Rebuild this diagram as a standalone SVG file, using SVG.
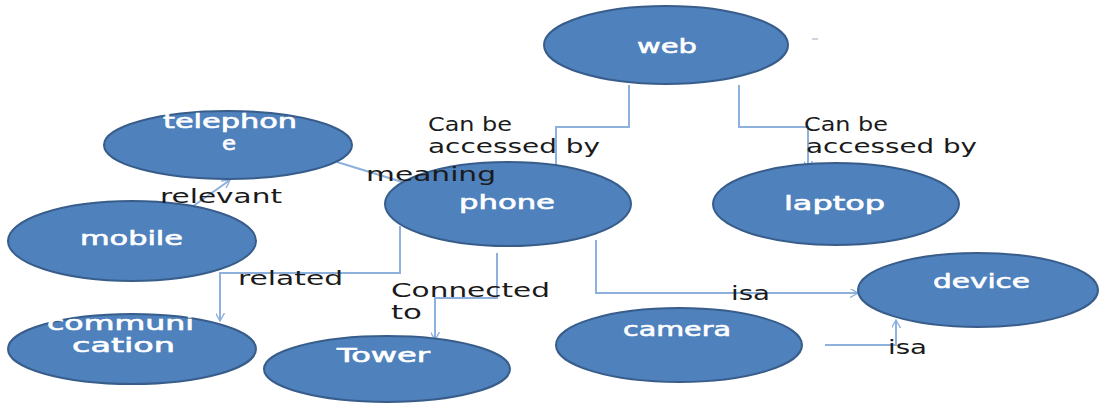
<svg xmlns="http://www.w3.org/2000/svg" width="1099" height="403" viewBox="0 0 1099 403">
<style>
.n{fill:#4F81BD;stroke:#385D8A;stroke-width:2}
.t{fill:#ffffff;stroke:#ffffff;stroke-width:0.6;font-family:"DejaVu Sans",sans-serif;font-size:19px}
.l{fill:#1a1a1a;font-family:"DejaVu Sans",sans-serif;font-size:19px}
.c{fill:none;stroke:#8DB0DC;stroke-width:2}
</style>
<defs>
<marker id="a" viewBox="0 0 10 10" refX="9" refY="5" markerWidth="9" markerHeight="9" markerUnits="userSpaceOnUse" orient="auto-start-reverse">
<path d="M0,0 L9,5 L0,10" fill="none" stroke="#8DB0DC" stroke-width="1.5"/>
</marker>
</defs>
<rect width="1099" height="403" fill="#ffffff"/>
<g id="connectors">
<polyline class="c" points="629,85 629,127 556,127 556,176" marker-end="url(#a)"/>
<polyline class="c" points="739,85 739,127 808,127 808,169" marker-end="url(#a)"/>
<line class="c" x1="337" y1="162" x2="412" y2="185" marker-end="url(#a)"/>
<line class="c" x1="182" y1="214" x2="230" y2="180" marker-start="url(#a)" marker-end="url(#a)"/>
<polyline class="c" points="400,226 400,273 220,273 220,321" marker-end="url(#a)"/>
<polyline class="c" points="497,253 497,298 435,298 435,340" marker-end="url(#a)"/>
<polyline class="c" points="596,240 596,293 858,293" marker-end="url(#a)"/>
<polyline class="c" points="825,345 896,345 896,320" marker-end="url(#a)"/>
<line x1="812" y1="39" x2="818" y2="39" stroke="#9aa9bb" stroke-width="1"/>
</g>
<g id="web"><ellipse class="n" cx="666" cy="45" rx="122" ry="39"/><text class="t" x="637" y="53" textLength="60" lengthAdjust="spacingAndGlyphs">web</text></g>
<g id="telephone"><ellipse class="n" cx="228" cy="145" rx="124" ry="34"/><text class="t" x="163" y="128" textLength="134" lengthAdjust="spacingAndGlyphs">telephon</text><text class="t" x="222" y="150" textLength="14" lengthAdjust="spacingAndGlyphs">e</text></g>
<g id="mobile"><ellipse class="n" cx="132" cy="241" rx="124" ry="40"/><text class="t" x="80" y="245" textLength="103" lengthAdjust="spacingAndGlyphs">mobile</text></g>
<g id="phone"><ellipse class="n" cx="508" cy="204" rx="123" ry="42"/><text class="t" x="459" y="209" textLength="96" lengthAdjust="spacingAndGlyphs">phone</text></g>
<g id="laptop"><ellipse class="n" cx="836" cy="204" rx="123" ry="41"/><text class="t" x="784" y="210" textLength="101" lengthAdjust="spacingAndGlyphs">laptop</text></g>
<g id="device"><ellipse class="n" cx="978" cy="290" rx="120" ry="37"/><text class="t" x="933" y="288" textLength="97" lengthAdjust="spacingAndGlyphs">device</text></g>
<g id="camera"><ellipse class="n" cx="679" cy="345" rx="123" ry="37"/><text class="t" x="623" y="336" textLength="108" lengthAdjust="spacingAndGlyphs">camera</text></g>
<g id="Tower"><ellipse class="n" cx="387" cy="369" rx="123" ry="33"/><text class="t" x="337" y="362" textLength="93" lengthAdjust="spacingAndGlyphs">Tower</text></g>
<g id="communication"><ellipse class="n" cx="132" cy="349" rx="124" ry="35"/><text class="t" x="47" y="330" textLength="147" lengthAdjust="spacingAndGlyphs">communi</text><text class="t" x="72" y="352" textLength="103" lengthAdjust="spacingAndGlyphs">cation</text></g>
<g id="labels">
<text class="l" x="428" y="131" textLength="84" lengthAdjust="spacingAndGlyphs">Can be</text>
<text class="l" x="428" y="153" textLength="172" lengthAdjust="spacingAndGlyphs">accessed by</text>
<text class="l" x="804" y="131" textLength="84" lengthAdjust="spacingAndGlyphs">Can be</text>
<text class="l" x="806" y="153" textLength="171" lengthAdjust="spacingAndGlyphs">accessed by</text>
<text class="l" x="366" y="181" textLength="130" lengthAdjust="spacingAndGlyphs">meaning</text>
<text class="l" x="160" y="203" textLength="122" lengthAdjust="spacingAndGlyphs">relevant</text>
<text class="l" x="238" y="285" textLength="105" lengthAdjust="spacingAndGlyphs">related</text>
<text class="l" x="391" y="297" textLength="159" lengthAdjust="spacingAndGlyphs">Connected</text>
<text class="l" x="391" y="319" textLength="31" lengthAdjust="spacingAndGlyphs">to</text>
<text class="l" x="731" y="300" textLength="39" lengthAdjust="spacingAndGlyphs">isa</text>
<text class="l" x="888" y="354" textLength="39" lengthAdjust="spacingAndGlyphs">isa</text>
</g>
</svg>
